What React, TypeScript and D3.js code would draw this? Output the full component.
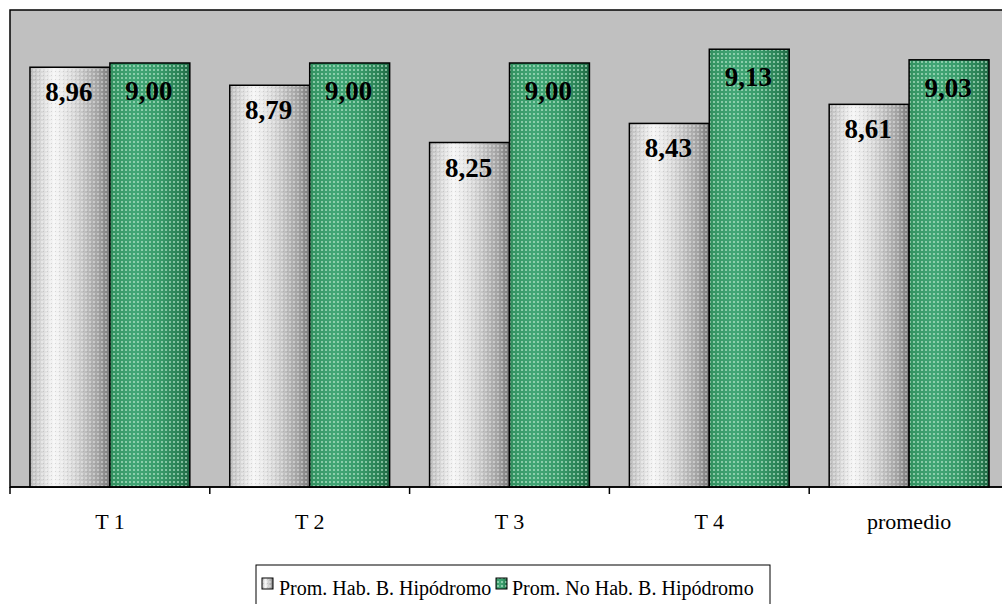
import React from "react";
import * as d3 from "d3";

const categories = ["T 1", "T 2", "T 3", "T 4", "promedio"];
const seriesNames = ["Prom. Hab. B. Hipódromo", "Prom. No Hab. B. Hipódromo"];
const habValues = [8.96, 8.79, 8.25, 8.43, 8.61];
const noHabValues = [9.0, 9.0, 9.0, 9.13, 9.03];
const yDomain = [5, 9.5];

const W = 1002;
const H = 604;
const plot = { left: 10, top: 10, right: 1009, bottom: 487 };

export default function App() {
  const x0 = d3
    .scaleBand<string>()
    .domain(categories)
    .range([plot.left, plot.right])
    .padding(0);
  const x1 = d3
    .scaleBand<string>()
    .domain(seriesNames)
    .range([0, x0.bandwidth()])
    .paddingInner(0)
    .paddingOuter(0.25);
  const y = d3.scaleLinear().domain(yDomain).range([plot.bottom, plot.top]);

  const series = [
    { name: seriesNames[0], values: habValues, fill: "url(#grayFill)", dots: "url(#grayDots)", labelOff: 34 },
    { name: seriesNames[1], values: noHabValues, fill: "url(#greenFill)", dots: "url(#greenDots)", labelOff: 37 },
  ];
  const fmt = (v: number) => v.toFixed(2).replace(".", ",");
  const serif = "'Liberation Serif', 'Times New Roman', serif";

  const boundaries = [...categories.map((c) => x0(c)!), plot.right];

  return (
    <svg
      width={W}
      height={H}
      style={{ position: "absolute", left: 0, top: 0, background: "#fff" }}
      fontFamily={serif}
    >
      <defs>
        <linearGradient id="grayFill" x1="0" x2="1" y1="0" y2="0">
          <stop offset="0" stopColor="#bcbcbc" />
          <stop offset="0.3" stopColor="#f6f6f6" />
          <stop offset="0.55" stopColor="#d8d8d8" />
          <stop offset="0.85" stopColor="#a4a4a4" />
          <stop offset="1" stopColor="#787878" />
        </linearGradient>
        <linearGradient id="greenFill" x1="0" x2="1" y1="0" y2="0">
          <stop offset="0" stopColor="#32905f" />
          <stop offset="0.3" stopColor="#42a676" />
          <stop offset="0.6" stopColor="#3a9d6c" />
          <stop offset="0.9" stopColor="#287d52" />
          <stop offset="1" stopColor="#1e6442" />
        </linearGradient>
        <pattern id="grayDots" width="4" height="4" patternUnits="userSpaceOnUse">
          <rect x="1" y="1" width="2" height="2" fill="#ffffff" opacity="0.35" />
          <rect x="3" y="3" width="1" height="1" fill="#808080" opacity="0.25" />
        </pattern>
        <pattern id="greenDots" width="4" height="4" patternUnits="userSpaceOnUse">
          <rect x="1" y="1" width="2" height="2" fill="#c8f0d8" opacity="0.55" />
        </pattern>
      </defs>

      {/* plot area */}
      <rect
        x={plot.left}
        y={plot.top}
        width={plot.right - plot.left}
        height={plot.bottom - plot.top}
        fill="#c0c0c0"
        stroke="#000"
        strokeWidth={1.5}
      />

      {/* bars */}
      {categories.map((c, i) =>
        series.map((s) => {
          const bx = x0(c)! + x1(s.name)!;
          const bw = x1.bandwidth();
          const by = y(s.values[i]);
          const bh = plot.bottom - by;
          return (
            <g key={c + s.name}>
              <rect x={bx} y={by} width={bw} height={bh} fill={s.fill} />
              <rect x={bx} y={by} width={bw} height={bh} fill={s.dots} />
              <rect x={bx} y={by} width={bw} height={bh} fill="none" stroke="#000" strokeWidth={1.5} />
            </g>
          );
        })
      )}

      {/* data labels */}
      {categories.map((c, i) =>
        series.map((s) => {
          const cx = x0(c)! + x1(s.name)! + x1.bandwidth() / 2 - 1;
          const by = y(s.values[i]);
          return (
            <text
              key={"l" + c + s.name}
              x={cx}
              y={by + s.labelOff}
              textAnchor="middle"
              fontSize={27}
              fontWeight="bold"
              fill="#000"
            >
              {fmt(s.values[i])}
            </text>
          );
        })
      )}

      {/* baseline and ticks */}
      <line x1={plot.left} x2={W} y1={plot.bottom} y2={plot.bottom} stroke="#000" strokeWidth={1.5} />
      {boundaries.map((b, i) => (
        <line key={"t" + i} x1={b} x2={b} y1={plot.bottom} y2={plot.bottom + 7} stroke="#000" strokeWidth={1.5} />
      ))}

      {/* category labels */}
      {categories.map((c) => (
        <text key={"c" + c} x={x0(c)! + x0.bandwidth() / 2} y={529} textAnchor="middle" fontSize={22} fill="#000">
          {c}
        </text>
      ))}

      {/* legend */}
      <rect x={256} y={565} width={514} height={60} fill="#fff" stroke="#000" strokeWidth={1} />
      <rect x={262} y={578} width={11} height={11} fill="url(#grayFill)" />
      <rect x={262} y={578} width={11} height={11} fill="url(#grayDots)" />
      <rect x={262} y={578} width={11} height={11} fill="none" stroke="#000" strokeWidth={1} />
      <text x={279} y={595} fontSize={20} fill="#000">
        {seriesNames[0]}
      </text>
      <rect x={496} y={578} width={11} height={11} fill="url(#greenFill)" />
      <rect x={496} y={578} width={11} height={11} fill="url(#greenDots)" />
      <rect x={496} y={578} width={11} height={11} fill="none" stroke="#000" strokeWidth={1} />
      <text x={512} y={595} fontSize={20} fill="#000">
        {seriesNames[1]}
      </text>
    </svg>
  );
}
